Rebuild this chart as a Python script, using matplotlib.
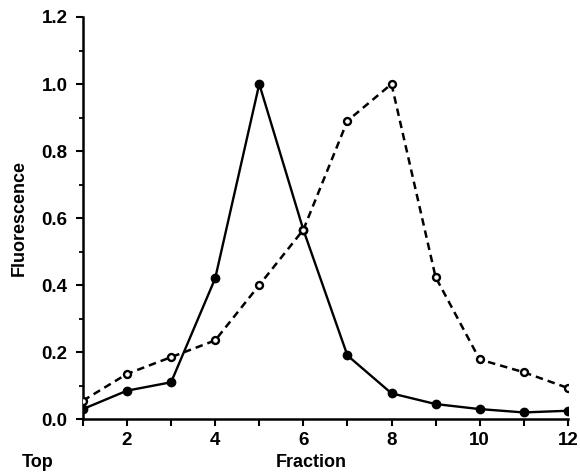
"""
Fluorescence profile across gradient fractions (top to bottom).
Two series: solid line with filled circles, dashed line with open circles.
"""

import matplotlib
matplotlib.use("Agg")
import matplotlib.pyplot as plt
from matplotlib.ticker import MultipleLocator

# -----------------------------
# Data
# -----------------------------
fractions = [1, 2, 3, 4, 5, 6, 7, 8, 9, 10, 11, 12]
solid_values = [0.03, 0.085, 0.11, 0.42, 1.0, 0.565, 0.19, 0.077, 0.045, 0.03, 0.02, 0.025]
dashed_values = [0.055, 0.135, 0.185, 0.235, 0.40, 0.565, 0.89, 1.0, 0.424, 0.178, 0.14, 0.093]

x_tick_labels = ["", "2", "", "4", "", "6", "", "8", "", "10", "", "12"]
y_ticks = [0.0, 0.2, 0.4, 0.6, 0.8, 1.0, 1.2]

FONT = "Liberation Sans"

fig = plt.figure(figsize=(5.8, 4.72), dpi=100)
ax = fig.add_axes([0.143, 0.112, 0.836, 0.852])

ax.plot(fractions, solid_values, color="black", linewidth=1.7,
        marker="o", markersize=6, markerfacecolor="black", markeredgecolor="black",
        zorder=3)
ax.plot(fractions, dashed_values, color="black", linewidth=1.8, linestyle=(0, (3, 2)),
        marker="o", markersize=5, markerfacecolor="white", markeredgecolor="black",
        markeredgewidth=1.7, zorder=3)

ax.set_xlim(1, 12)
ax.set_ylim(0, 1.2)

ax.set_xticks(fractions)
ax.set_xticklabels(x_tick_labels)
ax.set_yticks(y_ticks)
ax.set_yticklabels([f"{v:.1f}" for v in y_ticks])
ax.yaxis.set_minor_locator(MultipleLocator(0.1))

for spine in ["top", "right"]:
    ax.spines[spine].set_visible(False)
for spine in ["left", "bottom"]:
    ax.spines[spine].set_linewidth(1.8)

ax.tick_params(axis="both", which="major", direction="out", length=5, width=1.5,
               labelsize=13.5)
ax.tick_params(axis="x", which="major", pad=4)
ax.tick_params(axis="y", which="major", pad=6)
ax.tick_params(axis="y", which="minor", direction="out", length=3, width=1.3)

for label in ax.get_xticklabels() + ax.get_yticklabels():
    label.set_fontfamily(FONT)
    label.set_fontweight("bold")

ax.set_ylabel("Fluorescence", fontsize=13, fontfamily=FONT, fontweight="bold", labelpad=10)
fig.text(0.537, 0.002, "Fraction", fontsize=13, fontfamily=FONT, fontweight="bold",
         ha="center", va="bottom")
fig.text(0.065, 0.002, "Top", fontsize=13, fontfamily=FONT, fontweight="bold",
         ha="center", va="bottom")

fig.savefig("out.png", dpi=100, facecolor="white")
plt.close(fig)
